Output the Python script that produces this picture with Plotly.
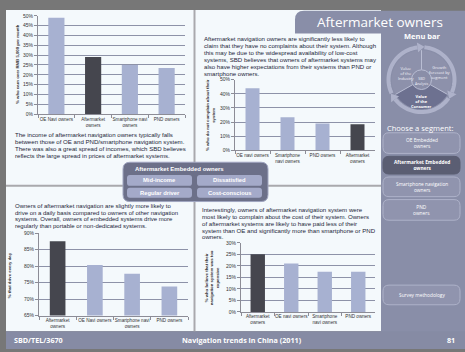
import math
import plotly.graph_objects as go

W, H = 465, 352

# ---------------- Data ----------------
income_cats = ["OE Navi owners", "Aftermarket owners", "Smartphone navi owners", "PND owners"]
income_ticks = ["OE Navi owners", "Aftermarket<br>owners", "Smartphone navi<br>owners", "PND owners"]
income_vals = [49, 29, 25, 23.5]

complain_cats = ["OE navi owners", "Smartphone navi owners", "PND owners", "Aftermarket owners"]
complain_ticks = ["OE navi owners", "Smartphone<br>navi owners", "PND owners", "Aftermarket<br>owners"]
complain_vals = [44, 23.5, 19, 18.5]

drive_cats = ["Aftermarket owners", "OE Navi owners", "Smartphone navi owners", "PND owners"]
drive_ticks = ["Aftermarket<br>owners", "OE Navi owners", "Smartphone navi<br>owners", "PND owners"]
drive_vals = [87.5, 80.3, 77.7, 73.8]

cost_cats = ["Aftermarket owners", "OE navi owners", "Smartphone navi owners", "PND owners"]
cost_ticks = ["Aftermarket<br>owners", "OE navi owners", "Smartphone<br>navi owners", "PND owners"]
cost_vals = [25, 21, 17.5, 17.5]

highlight = "Aftermarket owners"

# ---------------- Styles ----------------
LIGHT = "#a7b1d1"
DARK = "#45464e"
GRID = "#8d92a8"
PANEL = "#f4f9fc"
SIDE = "#898ea8"
TXT = "#1c1f3a"
BODY_FONT = "Liberation Sans"
UI_FONT = "Open Sans"


def px(x):
    return x / W


def py(y):
    return 1 - y / H


shapes = []
annos = []


def rect(x0, y0, x1, y1, fill, line=None, lw=0, layer="below"):
    shapes.append(dict(type="rect", xref="paper", yref="paper",
                       x0=px(x0), x1=px(x1), y0=py(y1), y1=py(y0),
                       fillcolor=fill, line=dict(color=line or fill, width=lw), layer=layer))


def pth(points_px, closed=True):
    s = ""
    for cmd, pts in points_px:
        s += cmd + " " + " ".join(f"{px(a):.5f},{py(b):.5f}" for a, b in pts) + " "
    if closed:
        s += "Z"
    return s


def rrect(x0, y0, x1, y1, r, fill, line=None, lw=0, corners=(1, 1, 1, 1), layer="below"):
    tl, tr, br, bl = [r * c for c in corners]
    cmds = [
        ("M", [(x0 + tl, y0)]),
        ("L", [(x1 - tr, y0)]),
        ("Q", [(x1, y0), (x1, y0 + tr)]),
        ("L", [(x1, y1 - br)]),
        ("Q", [(x1, y1), (x1 - br, y1)]),
        ("L", [(x0 + bl, y1)]),
        ("Q", [(x0, y1), (x0, y1 - bl)]),
        ("L", [(x0, y0 + tl)]),
        ("Q", [(x0, y0), (x0 + tl, y0)]),
    ]
    shapes.append(dict(type="path", xref="paper", yref="paper", path=pth(cmds),
                       fillcolor=fill, line=dict(color=line or fill, width=lw), layer=layer))


def line(x0, y0, x1, y1, color, w=1, layer="below"):
    shapes.append(dict(type="line", xref="paper", yref="paper",
                       x0=px(x0), x1=px(x1), y0=py(y0), y1=py(y1),
                       line=dict(color=color, width=w), layer=layer))


def text(x, y, s, size, color=TXT, xanchor="left", yanchor="middle", family=BODY_FONT,
         angle=0, align="left"):
    annos.append(dict(x=px(x), y=py(y), xref="paper", yref="paper", text=s, showarrow=False,
                      xanchor=xanchor, yanchor=yanchor, textangle=angle, align=align,
                      font=dict(size=size, color=color, family=family)))


# ---------------- Background / panels ----------------
rect(6, 7, 381, 334, PANEL)
rrect(295, 8, 465, 31, 9, SIDE, corners=(1, 0, 0, 0))
rect(381, 30, 465, 335, SIDE)
rect(6, 334, 465, 352, "#868ba4")
line(194.5, 7, 194.5, 334, "#a9a9ad", 2)
line(6, 186, 381, 186, "#a9a9ad", 2)

# ---------------- Paragraphs ----------------
p1 = ["The income of aftermarket navigation owners typically falls",
      "between those of OE and PND/smartphone navigation system.",
      "There was also a great spread of incomes, which SBD believes",
      "reflects the large spread in prices of aftermarket systems."]
for i, s in enumerate(p1):
    text(13, 134 + i * 7.1, s, 6.1)

p2 = ["Aftermarket navigation owners are significantly less likely to",
      "claim that they have no complaints about their system. Although",
      "this may be due to the widespread availability of low-cost",
      "systems, SBD believes that owners of aftermarket systems may",
      "also have higher expectations from their systems than PND or",
      "smartphone owners."]
for i, s in enumerate(p2):
    text(202, 36 + i * 7.2, s, 6.1)

p3 = ["Owners of aftermarket navigation are slightly more likely to",
      "drive on a daily basis compared to owners of other navigation",
      "systems. Overall, owners of embedded systems drive more",
      "regularly than portable or non-dedicated systems."]
for i, s in enumerate(p3):
    text(13, 206.5 + i * 6.8, s, 6.0)

p4 = ["Interestingly, owners of aftermarket navigation system were",
      "most likely to complain about the cost of their system. Owners",
      "of aftermarket systems are likely to have paid less of their",
      "system than OE and significantly more than smartphone or PND",
      "owners."]
for i, s in enumerate(p4):
    text(200, 210 + i * 7.0, s, 6.1)

# ---------------- Overlay segment box ----------------
rrect(123, 162, 268, 202, 7, "#6c7089", line="#a0a5c0", lw=1)
text(133, 169, "<b>Aftermarket Embedded owners</b>", 6, "#ffffff", family=BODY_FONT)
btns = [("Mid-income", 127, 175, 192, 186), ("Dissatisfied", 197, 175, 262, 186),
        ("Regular driver", 127, 188, 192, 198), ("Cost-conscious", 197, 188, 262, 198)]
for lab, x0, y0, x1, y1 in btns:
    rrect(x0, y0, x1, y1, 3, "#a4aac9")
    text((x0 + x1) / 2, (y0 + y1) / 2, f"<b>{lab}</b>", 5.8, "#ffffff", xanchor="center")

# ---------------- Header / sidebar ----------------
text(380, 19, "Aftermarket owners", 13.5, "#ffffff", xanchor="center", family=UI_FONT)
text(422, 34, "<b>Menu bar</b>", 7.5, "#ffffff", xanchor="center", family=UI_FONT)

cx, cy, R = 421.5, 78, 33
shapes.append(dict(type="circle", xref="paper", yref="paper", x0=px(cx - 30), x1=px(cx + 30),
                   y0=py(cy + 30), y1=py(cy - 30), fillcolor="#8d91ab",
                   line=dict(color="#8d91ab", width=0), layer="below"))
pts = [(cx, cy)]
for a in range(210, 331, 5):
    t = math.radians(a)
    pts.append((cx + 30 * math.cos(t), cy - 30 * math.sin(t)))
cmds = [("M", [pts[0]])] + [("L", [p]) for p in pts[1:]]
shapes.append(dict(type="path", xref="paper", yref="paper", path=pth(cmds),
                   fillcolor="#6d7190", line=dict(width=0), layer="below"))
for a in (90, 210, 330):
    t = math.radians(a)
    line(cx + 10 * math.cos(t), cy - 10 * math.sin(t), cx + 30 * math.cos(t), cy - 30 * math.sin(t),
         "#b9bdd3", 1)
shapes.append(dict(type="circle", xref="paper", yref="paper", x0=px(cx - 10), x1=px(cx + 10),
                   y0=py(cy + 10), y1=py(cy - 10), fillcolor="#8a8ea8",
                   line=dict(color="#b9bdd3", width=1), layer="below"))
RING = "#aeb2ca"
for a0, a1 in ((205, 97), (85, -23), (-35, -143)):
    pts = []
    a = a0
    while a >= a1:
        t = math.radians(a)
        pts.append((cx + R * math.cos(t), cy - R * math.sin(t)))
        a -= 4
    cmds = [("M", [pts[0]])] + [("L", [p]) for p in pts[1:]]
    shapes.append(dict(type="path", xref="paper", yref="paper", path=pth(cmds, closed=False),
                       line=dict(color=RING, width=4), layer="below"))
    t = math.radians(a1)
    ex, ey = cx + R * math.cos(t), cy - R * math.sin(t)
    tx, ty = math.sin(t), math.cos(t)
    nx, ny = math.cos(t), -math.sin(t)
    tri = [(ex + tx * 7, ey + ty * 7), (ex + nx * 5, ey + ny * 5), (ex - nx * 5, ey - ny * 5)]
    cmds = [("M", [tri[0]]), ("L", [tri[1]]), ("L", [tri[2]])]
    shapes.append(dict(type="path", xref="paper", yref="paper", path=pth(cmds),
                       fillcolor=RING, line=dict(width=0), layer="below"))

text(405, 72, "Value<br>of the<br>Industry", 4, "#f0f0f8", xanchor="center", family=UI_FONT, align="center")
text(439, 71, "Growth<br>forecast by<br>segment", 4, "#f0f0f8", xanchor="center", family=UI_FONT, align="center")
text(cx, 79, "SBD<br>Analysis", 3.5, "#f0f0f8", xanchor="center", family=UI_FONT, align="center")
text(cx, 100, "<b>Value<br>of the<br>Consumer</b>", 4, "#ffffff", xanchor="center", family=UI_FONT, align="center")

text(420, 127, "Choose a segment:", 7.5, "#ffffff", xanchor="center", family=UI_FONT)

side_btns = [("OE Embedded<br>owners", 132, 153, False),
             ("<b>Aftermarket Embedded<br>owners</b>", 156, 174, True),
             ("Smartphone navigation<br>owners", 177, 197, False),
             ("PND<br>owners", 200, 221, False),
             ("Survey methodology", 287, 307, False)]
for lab, y0, y1, sel in side_btns:
    if sel:
        rrect(383, y0, 460, y1, 6, "#5b5e73", line="#5b5e73", lw=1)
    else:
        rrect(383, y0, 460, y1, 6, "#9094ae", line="#aeb2c9", lw=1)
    text(421.5, (y0 + y1) / 2, lab, 4.8, "#ffffff", xanchor="center", family=UI_FONT, align="center")

text(12, 343, "<b>SBD/TEL/3670</b>", 7.2, "#ffffff", family=UI_FONT)
text(242, 343, "<b>Navigation trends in China (2011)</b>", 7.2, "#ffffff", xanchor="center", family=UI_FONT)
text(451, 343, "<b>81</b>", 7.2, "#ffffff", xanchor="center", family=UI_FONT)

# ---------------- Charts ----------------
fig = go.Figure()
layout_axes = {}


def add_chart(idx, cats, ticks, vals, xdom, ydom, yrange, dtick, width):
    xs = "x" if idx == 1 else f"x{idx}"
    ys = "y" if idx == 1 else f"y{idx}"
    colors = [DARK if c == highlight else LIGHT for c in cats]
    fig.add_trace(go.Bar(x=cats, y=vals, marker=dict(color=colors, line=dict(width=0)),
                         width=width, xaxis=xs, yaxis=ys, hoverinfo="skip"))
    xk = "xaxis" if idx == 1 else f"xaxis{idx}"
    yk = "yaxis" if idx == 1 else f"yaxis{idx}"
    layout_axes[xk] = dict(domain=[px(xdom[0]), px(xdom[1])], anchor=ys, type="category",
                           tickvals=cats, ticktext=ticks, showgrid=False, showline=True,
                           linecolor="#8c8c96", linewidth=1, ticks="outside", tickson="boundaries",
                           ticklen=3, tickcolor="#8c8c96", tickangle=0,
                           tickfont=dict(size=4.6, color="#333333", family=BODY_FONT),
                           fixedrange=True)
    layout_axes[yk] = dict(domain=[py(ydom[1]), py(ydom[0])], anchor=xs, range=yrange,
                           dtick=dtick, ticksuffix="%", showgrid=True, gridcolor=GRID,
                           gridwidth=0.8, showline=True, linecolor="#8c8c96", linewidth=1,
                           ticks="outside", ticklen=3, tickcolor="#8c8c96", zeroline=False,
                           tickfont=dict(size=5.0, color="#333333", family=BODY_FONT),
                           fixedrange=True)


add_chart(1, income_cats, income_ticks, income_vals, (38, 185), (13, 113), [0, 50], 5, 0.44)
add_chart(2, complain_cats, complain_ticks, complain_vals, (235, 375), (78, 150), [0, 50], 10, 0.4)
add_chart(3, drive_cats, drive_ticks, drive_vals, (39, 188), (234, 318), [65, 90], 5, 0.42)
add_chart(4, cost_cats, cost_ticks, cost_vals, (241, 375), (244, 314.3), [0, 30], 5, 0.43)

text(18, 62, "<b>% who earn over RMB 5,000 per month</b>", 4.3, "#333333", xanchor="center", angle=-90)
text(210, 114, "<b>% who do not complain about their<br>system</b>", 4.3, "#333333", xanchor="center",
     angle=-90, align="center")
text(9, 277, "<b>% that drive every day</b>", 4.3, "#333333", xanchor="center", angle=-90)
text(212, 280, "<b>% who believe that their<br>navigation system was too<br>expensive</b>", 4.3, "#333333",
     xanchor="center", angle=-90, align="center")

fig.update_layout(width=W, height=H, margin=dict(l=0, r=0, t=0, b=0),
                  paper_bgcolor="#777777", plot_bgcolor="rgba(0,0,0,0)", showlegend=False,
                  bargap=0.5, shapes=shapes, annotations=annos, **layout_axes)

fig.write_html("out.html")
